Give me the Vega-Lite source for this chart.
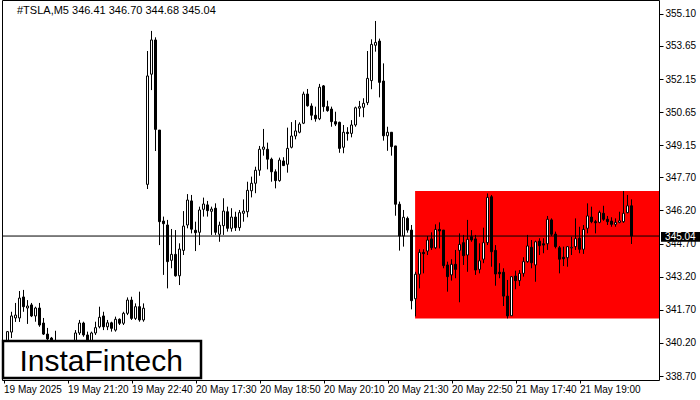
{
  "$schema": "https://vega.github.io/schema/vega-lite/v6.json",
  "width": 657,
  "height": 380,
  "autosize": "none",
  "padding": {"left": 2, "top": 0, "right": 41, "bottom": 20},
  "background": "white",
  "view": {"stroke": "black", "strokeWidth": 1},
  "config": {
    "axis": {"labelFont": "Liberation Sans", "labelFontSize": 10, "labelColor": "black", "tickColor": "black", "grid": false, "domain": false},
    "scale": {"continuousPadding": 0}
  },
  "datasets": {
    "candles": [
      {"i":1,"o":340.24,"h":340.74,"l":340.10,"c":340.71},
      {"i":2,"o":340.69,"h":341.61,"l":340.42,"c":341.42},
      {"i":3,"o":341.33,"h":342.01,"l":341.15,"c":341.46},
      {"i":4,"o":341.33,"h":342.55,"l":341.15,"c":342.23},
      {"i":5,"o":342.28,"h":342.60,"l":341.61,"c":341.84},
      {"i":6,"o":341.78,"h":342.14,"l":341.06,"c":341.87},
      {"i":7,"o":341.92,"h":342.01,"l":341.37,"c":341.42},
      {"i":8,"o":341.42,"h":341.84,"l":341.16,"c":341.78},
      {"i":9,"o":341.78,"h":342.01,"l":340.93,"c":341.01},
      {"i":10,"o":341.10,"h":341.33,"l":340.56,"c":340.60},
      {"i":11,"o":340.60,"h":340.88,"l":340.33,"c":340.38},
      {"i":12,"o":340.42,"h":340.47,"l":339.95,"c":340.20},
      {"i":13,"o":340.15,"h":340.75,"l":339.60,"c":339.90},
      {"i":14,"o":339.90,"h":340.10,"l":339.40,"c":339.60},
      {"i":15,"o":339.60,"h":339.90,"l":339.20,"c":339.50},
      {"i":16,"o":339.50,"h":340.00,"l":339.30,"c":339.80},
      {"i":17,"o":339.80,"h":340.20,"l":339.60,"c":340.00},
      {"i":18,"o":340.10,"h":340.78,"l":339.90,"c":340.65},
      {"i":19,"o":340.65,"h":341.24,"l":340.56,"c":341.10},
      {"i":20,"o":341.10,"h":341.16,"l":340.48,"c":340.56},
      {"i":21,"o":340.56,"h":340.71,"l":340.00,"c":340.20},
      {"i":22,"o":340.25,"h":340.71,"l":340.10,"c":340.65},
      {"i":23,"o":340.65,"h":341.16,"l":340.56,"c":340.89},
      {"i":24,"o":340.93,"h":341.84,"l":340.86,"c":341.36},
      {"i":25,"o":341.42,"h":341.61,"l":340.78,"c":340.93},
      {"i":26,"o":340.93,"h":341.24,"l":340.78,"c":341.11},
      {"i":27,"o":341.11,"h":341.16,"l":340.71,"c":340.86},
      {"i":28,"o":340.78,"h":341.39,"l":340.71,"c":341.27},
      {"i":29,"o":341.27,"h":341.31,"l":341.01,"c":341.09},
      {"i":30,"o":341.09,"h":341.61,"l":341.01,"c":341.54},
      {"i":31,"o":341.54,"h":342.26,"l":341.46,"c":342.14},
      {"i":32,"o":342.14,"h":342.29,"l":341.24,"c":341.31},
      {"i":33,"o":341.31,"h":341.99,"l":341.24,"c":341.84},
      {"i":34,"o":341.84,"h":342.52,"l":341.16,"c":341.24},
      {"i":35,"o":341.24,"h":341.99,"l":341.16,"c":341.77},
      {"i":36,"o":347.38,"h":353.42,"l":347.17,"c":352.29},
      {"i":37,"o":352.37,"h":354.33,"l":351.65,"c":353.92},
      {"i":38,"o":353.92,"h":354.04,"l":348.89,"c":349.87},
      {"i":39,"o":349.84,"h":349.84,"l":344.63,"c":345.69},
      {"i":40,"o":345.72,"h":345.92,"l":343.28,"c":345.60},
      {"i":41,"o":345.54,"h":345.77,"l":342.67,"c":343.88},
      {"i":42,"o":343.94,"h":345.36,"l":343.58,"c":344.21},
      {"i":43,"o":344.21,"h":345.31,"l":343.20,"c":343.24},
      {"i":44,"o":343.24,"h":344.71,"l":342.82,"c":344.45},
      {"i":45,"o":344.39,"h":346.17,"l":344.18,"c":345.49},
      {"i":46,"o":345.54,"h":346.94,"l":345.39,"c":346.67},
      {"i":47,"o":346.63,"h":346.90,"l":345.16,"c":345.35},
      {"i":48,"o":345.30,"h":345.69,"l":344.36,"c":345.19},
      {"i":49,"o":345.21,"h":346.37,"l":344.63,"c":346.22},
      {"i":50,"o":346.25,"h":346.78,"l":345.92,"c":346.49},
      {"i":51,"o":346.45,"h":346.63,"l":345.92,"c":346.19},
      {"i":52,"o":346.16,"h":346.37,"l":345.09,"c":346.26},
      {"i":53,"o":346.30,"h":346.52,"l":345.09,"c":345.21},
      {"i":54,"o":345.12,"h":345.69,"l":344.78,"c":345.53},
      {"i":55,"o":345.51,"h":346.75,"l":345.09,"c":346.17},
      {"i":56,"o":346.14,"h":346.37,"l":345.24,"c":345.39},
      {"i":57,"o":345.39,"h":346.30,"l":345.24,"c":345.90},
      {"i":58,"o":345.90,"h":346.14,"l":345.27,"c":345.42},
      {"i":59,"o":345.42,"h":346.22,"l":345.28,"c":346.10},
      {"i":60,"o":346.07,"h":346.70,"l":345.69,"c":346.17},
      {"i":61,"o":346.14,"h":347.50,"l":345.89,"c":347.11},
      {"i":62,"o":347.09,"h":347.73,"l":346.79,"c":347.43},
      {"i":63,"o":347.43,"h":348.18,"l":346.98,"c":348.02},
      {"i":64,"o":348.02,"h":349.12,"l":347.77,"c":348.97},
      {"i":65,"o":348.97,"h":349.89,"l":348.68,"c":349.07},
      {"i":66,"o":348.97,"h":349.27,"l":348.06,"c":348.52},
      {"i":67,"o":348.52,"h":348.59,"l":347.50,"c":347.95},
      {"i":68,"o":347.95,"h":348.06,"l":347.20,"c":347.55},
      {"i":69,"o":347.55,"h":348.59,"l":347.50,"c":348.48},
      {"i":70,"o":348.44,"h":348.61,"l":348.21,"c":348.23},
      {"i":71,"o":348.29,"h":349.95,"l":347.91,"c":349.01},
      {"i":72,"o":349.06,"h":350.20,"l":349.01,"c":349.57},
      {"i":73,"o":349.57,"h":350.29,"l":349.42,"c":349.80},
      {"i":74,"o":349.74,"h":350.19,"l":349.69,"c":350.11},
      {"i":75,"o":350.15,"h":351.58,"l":350.11,"c":351.47},
      {"i":76,"o":351.47,"h":351.70,"l":350.90,"c":350.94},
      {"i":77,"o":350.93,"h":351.05,"l":350.29,"c":350.51},
      {"i":78,"o":350.51,"h":350.90,"l":350.22,"c":350.35},
      {"i":79,"o":350.35,"h":351.93,"l":350.29,"c":351.78},
      {"i":80,"o":351.84,"h":351.88,"l":350.67,"c":350.90},
      {"i":81,"o":350.90,"h":351.17,"l":350.67,"c":350.72},
      {"i":82,"o":350.79,"h":350.90,"l":349.99,"c":350.22},
      {"i":83,"o":350.22,"h":350.67,"l":350.02,"c":350.11},
      {"i":84,"o":350.19,"h":350.22,"l":348.81,"c":349.01},
      {"i":85,"o":349.06,"h":350.07,"l":348.79,"c":349.74},
      {"i":86,"o":349.74,"h":349.97,"l":349.36,"c":349.68},
      {"i":87,"o":349.69,"h":350.29,"l":349.51,"c":350.07},
      {"i":88,"o":350.07,"h":350.90,"l":349.99,"c":350.85},
      {"i":89,"o":350.83,"h":351.16,"l":350.44,"c":350.90},
      {"i":90,"o":350.87,"h":351.28,"l":350.42,"c":351.05},
      {"i":91,"o":351.08,"h":353.42,"l":350.97,"c":352.18},
      {"i":92,"o":352.08,"h":353.95,"l":351.69,"c":353.72},
      {"i":93,"o":353.68,"h":354.78,"l":353.39,"c":353.81},
      {"i":94,"o":353.87,"h":353.98,"l":351.32,"c":352.00},
      {"i":95,"o":352.06,"h":352.86,"l":349.36,"c":349.58},
      {"i":96,"o":349.58,"h":349.99,"l":348.90,"c":349.74},
      {"i":97,"o":349.74,"h":349.74,"l":348.68,"c":349.09},
      {"i":98,"o":349.12,"h":349.12,"l":345.96,"c":346.48},
      {"i":99,"o":346.48,"h":346.60,"l":344.38,"c":345.04},
      {"i":100,"o":345.04,"h":346.22,"l":344.56,"c":345.89},
      {"i":101,"o":345.84,"h":345.92,"l":345.19,"c":345.31},
      {"i":102,"o":345.31,"h":345.54,"l":341.72,"c":342.11},
      {"i":103,"o":342.20,"h":343.42,"l":341.40,"c":343.31},
      {"i":104,"o":343.31,"h":344.44,"l":342.67,"c":344.30},
      {"i":105,"o":344.30,"h":344.44,"l":343.35,"c":344.24},
      {"i":106,"o":344.36,"h":345.04,"l":344.18,"c":344.86},
      {"i":107,"o":344.91,"h":345.21,"l":344.41,"c":344.51},
      {"i":108,"o":344.51,"h":345.57,"l":344.45,"c":345.34},
      {"i":109,"o":345.34,"h":345.66,"l":344.48,"c":345.27},
      {"i":110,"o":345.31,"h":345.31,"l":343.58,"c":343.70},
      {"i":111,"o":343.73,"h":343.88,"l":342.52,"c":343.20},
      {"i":112,"o":343.28,"h":343.99,"l":343.02,"c":343.76},
      {"i":113,"o":343.76,"h":344.41,"l":343.13,"c":343.53},
      {"i":114,"o":344.39,"h":345.16,"l":342.04,"c":344.66},
      {"i":115,"o":344.74,"h":345.09,"l":343.73,"c":344.15},
      {"i":116,"o":344.18,"h":345.77,"l":343.42,"c":344.89},
      {"i":117,"o":345.01,"h":345.31,"l":344.78,"c":344.86},
      {"i":118,"o":344.91,"h":345.09,"l":343.28,"c":343.50},
      {"i":119,"o":343.53,"h":344.71,"l":343.35,"c":343.92},
      {"i":120,"o":343.99,"h":345.42,"l":343.81,"c":344.74},
      {"i":121,"o":344.74,"h":346.97,"l":344.63,"c":346.79},
      {"i":122,"o":346.82,"h":346.90,"l":343.65,"c":344.33},
      {"i":123,"o":344.39,"h":344.63,"l":342.79,"c":343.32},
      {"i":124,"o":343.40,"h":343.81,"l":343.13,"c":343.33},
      {"i":125,"o":343.40,"h":343.58,"l":341.87,"c":342.32},
      {"i":126,"o":342.32,"h":343.05,"l":341.31,"c":341.42},
      {"i":127,"o":341.43,"h":343.23,"l":341.42,"c":343.20},
      {"i":128,"o":343.23,"h":343.47,"l":342.63,"c":343.02},
      {"i":129,"o":343.02,"h":343.50,"l":342.78,"c":343.35},
      {"i":130,"o":343.35,"h":344.08,"l":343.20,"c":343.88},
      {"i":131,"o":343.88,"h":345.09,"l":343.83,"c":344.59},
      {"i":132,"o":344.53,"h":344.86,"l":343.58,"c":343.83},
      {"i":133,"o":343.73,"h":344.83,"l":342.97,"c":344.78},
      {"i":134,"o":344.81,"h":344.94,"l":344.18,"c":344.60},
      {"i":135,"o":344.69,"h":344.94,"l":344.26,"c":344.63},
      {"i":136,"o":344.69,"h":345.95,"l":344.41,"c":345.80},
      {"i":137,"o":345.77,"h":345.84,"l":345.04,"c":345.12},
      {"i":138,"o":345.13,"h":345.24,"l":344.48,"c":344.56},
      {"i":139,"o":344.51,"h":344.59,"l":343.35,"c":343.99},
      {"i":140,"o":344.08,"h":344.56,"l":343.68,"c":344.01},
      {"i":141,"o":344.06,"h":344.59,"l":343.65,"c":344.56},
      {"i":142,"o":344.50,"h":345.01,"l":344.18,"c":344.53},
      {"i":143,"o":344.56,"h":345.84,"l":344.41,"c":344.92},
      {"i":144,"o":344.94,"h":345.46,"l":344.26,"c":344.44},
      {"i":145,"o":344.44,"h":345.54,"l":344.23,"c":345.34},
      {"i":146,"o":345.39,"h":346.52,"l":345.16,"c":345.95},
      {"i":147,"o":345.90,"h":346.37,"l":345.62,"c":345.69},
      {"i":148,"o":345.69,"h":345.77,"l":345.16,"c":345.64},
      {"i":149,"o":345.66,"h":346.19,"l":345.62,"c":346.11},
      {"i":150,"o":346.07,"h":346.41,"l":345.73,"c":345.80},
      {"i":151,"o":345.80,"h":345.95,"l":345.54,"c":345.69},
      {"i":152,"o":345.72,"h":345.89,"l":345.46,"c":345.57},
      {"i":153,"o":345.57,"h":345.84,"l":345.46,"c":345.66},
      {"i":154,"o":345.66,"h":346.14,"l":345.62,"c":345.73},
      {"i":155,"o":345.69,"h":347.08,"l":345.64,"c":346.07},
      {"i":156,"o":346.10,"h":346.90,"l":346.07,"c":346.41},
      {"i":157,"o":346.41,"h":346.70,"l":344.68,"c":345.04}
    ]
  },
  "layer": [
    {
      "data": {"values": [{"i": 102.9, "i2": 163.875, "p1": 347.08, "p2": 341.31}]},
      "mark": {"type": "rect", "fill": "#ff0000"},
      "encoding": {
        "x": {"field": "i", "type": "quantitative", "scale": {"domain": [-0.375, 163.875], "nice": false, "zero": false, "padding": 0},
          "axis": {"title": null, "values": [0,16,32,48,64,80,96,112,128,144], "tickCount": 20,
            "labelExpr": "['19 May 2025','19 May 21:20','19 May 22:40','20 May 17:30','20 May 18:50','20 May 20:10','20 May 21:30','20 May 22:50','21 May 17:40','21 May 19:00'][round(datum.value/16)]",
            "labelAlign": "left", "labelBaseline": "top", "tickSize": 3, "labelPadding": 1, "labelFlush": false, "labelOverlap": false}},
        "x2": {"field": "i2"},
        "y": {"field": "p1", "type": "quantitative", "scale": {"domain": [338.52, 355.73], "nice": false, "zero": false, "padding": 0},
          "axis": {"title": null, "orient": "right", "values": [355.10,353.65,352.15,350.65,349.15,347.70,346.20,344.70,343.20,341.70,340.20,338.70], "tickCount": 30,
            "format": ".2f", "tickSize": 4, "labelPadding": 2, "labelOverlap": false, "labelFlush": false}},
        "y2": {"field": "p2"}
      }
    },
    {
      "data": {"name": "candles"},
      "mark": {"type": "rule", "color": "black", "strokeWidth": 1},
      "encoding": {
        "x": {"field": "i", "type": "quantitative"},
        "y": {"field": "l", "type": "quantitative"},
        "y2": {"field": "h"}
      }
    },
    {
      "data": {"name": "candles"},
      "mark": {"type": "bar", "orient": "vertical", "size": 2, "stroke": "black", "strokeWidth": 1},
      "encoding": {
        "x": {"field": "i", "type": "quantitative"},
        "y": {"field": "o", "type": "quantitative"},
        "y2": {"field": "c"},
        "fill": {"condition": {"test": "datum.c < datum.o", "value": "black"}, "value": "white"}
      }
    },
    {
      "data": {"values": [{"p": 345.04}]},
      "mark": {"type": "rule", "color": "black", "strokeWidth": 1},
      "encoding": {"y": {"field": "p", "type": "quantitative"}}
    },
    {
      "data": {"values": [{"i": -0.125, "i2": 49.375, "p1": 340.29, "p2": 338.61}]},
      "mark": {"type": "rect", "fill": "white", "stroke": "black", "strokeWidth": 2.5},
      "encoding": {
        "x": {"field": "i", "type": "quantitative"},
        "x2": {"field": "i2"},
        "y": {"field": "p1", "type": "quantitative"},
        "y2": {"field": "p2"}
      }
    },
    {
      "data": {"values": [{"i": 24.4, "p": 338.95, "t": "InstaFintech"}]},
      "mark": {"type": "text", "font": "Liberation Sans", "fontSize": 30, "color": "black", "align": "center", "baseline": "alphabetic"},
      "encoding": {
        "x": {"field": "i", "type": "quantitative"},
        "y": {"field": "p", "type": "quantitative"},
        "text": {"field": "t"}
      }
    },
    {
      "data": {"values": [{"i": 164.375, "i2": 174.3, "p1": 345.22, "p2": 344.78}]},
      "mark": {"type": "rect", "fill": "black"},
      "encoding": {
        "x": {"field": "i", "type": "quantitative"},
        "x2": {"field": "i2"},
        "y": {"field": "p1", "type": "quantitative"},
        "y2": {"field": "p2"}
      }
    },
    {
      "data": {"values": [{"i": 165.4, "p": 345.0, "t": "345.04"}]},
      "mark": {"type": "text", "font": "Liberation Sans", "fontSize": 10, "color": "white", "align": "left", "baseline": "middle"},
      "encoding": {
        "x": {"field": "i", "type": "quantitative"},
        "y": {"field": "p", "type": "quantitative"},
        "text": {"field": "t"}
      }
    },
    {
      "data": {"values": [{"i": 3.375, "p": 355.23, "t": "#TSLA,M5  346.41 346.70 344.68 345.04"}]},
      "mark": {"type": "text", "font": "Liberation Sans", "fontSize": 11, "color": "black", "align": "left", "baseline": "middle"},
      "encoding": {
        "x": {"field": "i", "type": "quantitative"},
        "y": {"field": "p", "type": "quantitative"},
        "text": {"field": "t"}
      }
    }
  ]
}
